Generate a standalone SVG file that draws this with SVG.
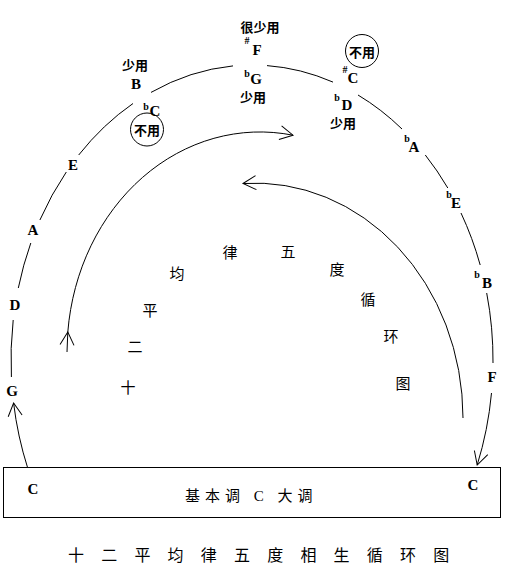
<svg xmlns="http://www.w3.org/2000/svg" width="510" height="576" viewBox="0 0 510 576">
<style>
.ln{fill:none;stroke:#000;stroke-width:1}
.n{font-family:"Liberation Serif","Noto Sans CJK SC",serif;font-size:15px;font-weight:bold;text-anchor:middle;fill:#000}
.acc{font-family:"Liberation Serif",serif;font-size:10px;font-weight:bold;text-anchor:middle;fill:#000}
.u{font-family:"Noto Sans CJK SC",sans-serif;font-size:13px;font-weight:bold;text-anchor:middle;fill:#000}
.z{font-family:"Noto Sans CJK SC",sans-serif;font-size:15px;font-weight:normal;text-anchor:middle;fill:#000}
.box{font-family:"Liberation Serif","Noto Sans CJK SC",serif;font-size:15px;fill:#000}
</style>
<defs>
<marker id="ah" markerUnits="userSpaceOnUse" markerWidth="20" markerHeight="20" refX="0" refY="0" viewBox="-15 -10 20 20" orient="auto">
<path d="M-13,-7 L0,0 L-13,7" fill="none" stroke="#000" stroke-width="1"/>
</marker>
</defs>
<rect width="510" height="576" fill="#fff"/>
<g id="connectors">
<path class="ln" d="M27.7,468 A241,295 0 0 1 13.6,403" marker-end="url(#ah)"/>
<path class="ln" d="M11.4,377 A241,295 0 0 1 13.2,320"/>
<path class="ln" d="M18.3,288 A241,295 0 0 1 30.8,243"/>
<path class="ln" d="M39.9,220 A241,295 0 0 1 66.3,172"/>
<path class="ln" d="M78.7,155 A241,295 0 0 1 133,103.5"/>
<path class="ln" d="M151,92.4 A241,295 0 0 1 233,65.9"/>
<path class="ln" d="M267,65.6 A241,295 0 0 1 333,82.1"/>
<path class="ln" d="M358,95 A241,295 0 0 1 402,129"/>
<path class="ln" d="M425.3,155 A241,295 0 0 1 447.8,188"/>
<path class="ln" d="M461,213 A241,295 0 0 1 480.2,265"/>
<path class="ln" d="M486.7,293 A241,295 0 0 1 493,363"/>
<path class="ln" d="M491.5,393 A241,295 0 0 1 477.2,465" marker-end="url(#ah)"/>
<path class="ln" d="M67,352 L67.8,332 A193,220 0 0 1 293,135.2" marker-mid="url(#ah)" marker-end="url(#ah)"/>
<path class="ln" d="M463,418 A208,235 0 0 0 243,183.5" marker-end="url(#ah)"/>
</g>
<g id="base">
<rect x="3.5" y="467.5" width="497" height="50" fill="none" stroke="#000" stroke-width="1"/>
<text class="n" x="33" y="494">C</text>
<text class="n" x="473" y="490">C</text>
<text class="box" x="185" y="501" letter-spacing="5">基本调 C 大调</text>
</g>
<g id="note-G"><text class="n" x="12" y="396">G</text></g>
<g id="note-D"><text class="n" x="15" y="310">D</text></g>
<g id="note-A"><text class="n" x="33" y="235">A</text></g>
<g id="note-E"><text class="n" x="73" y="170">E</text></g>
<g id="note-B"><text class="u" x="135" y="70">少用</text><text class="n" x="136" y="89">B</text></g>
<g id="note-Cb"><text class="acc" x="146" y="110">b</text><text class="n" x="155" y="116">C</text><circle cx="147" cy="129.5" r="16.5" fill="none" stroke="#000" stroke-width="1"/><text class="u" x="147" y="135" font-size="14px">不用</text></g>
<g id="note-Fs"><text class="u" x="260" y="32">很少用</text><text class="acc" x="247" y="44">#</text><text class="n" x="257" y="55">F</text></g>
<g id="note-Gb"><text class="acc" x="247" y="77">b</text><text class="n" x="256" y="84">G</text><text class="u" x="253" y="102">少用</text></g>
<g id="note-Cs"><circle cx="362" cy="51" r="16.5" fill="none" stroke="#000" stroke-width="1"/><text class="u" x="362" y="57" font-size="14px">不用</text><text class="acc" x="345" y="73">#</text><text class="n" x="353" y="83">C</text></g>
<g id="note-Db"><text class="acc" x="337" y="101">b</text><text class="n" x="347" y="110">D</text><text class="u" x="343" y="128">少用</text></g>
<g id="note-Ab"><text class="acc" x="407" y="142">b</text><text class="n" x="414" y="152">A</text></g>
<g id="note-Eb"><text class="acc" x="449" y="198">b</text><text class="n" x="456" y="208">E</text></g>
<g id="note-Bb"><text class="acc" x="477" y="278">b</text><text class="n" x="487" y="288">B</text></g>
<g id="note-F"><text class="n" x="492" y="382">F</text></g>
<g id="inner-title">
<text class="z" x="128" y="393">十</text>
<text class="z" x="135" y="352">二</text>
<text class="z" x="150" y="316">平</text>
<text class="z" x="177" y="279">均</text>
<text class="z" x="230" y="258">律</text>
<text class="z" x="288" y="257">五</text>
<text class="z" x="337" y="275">度</text>
<text class="z" x="368" y="305">循</text>
<text class="z" x="391" y="342">环</text>
<text class="z" x="403" y="389">图</text>
</g>
<g id="title">
<text x="68" y="561" font-family="Noto Sans CJK SC,sans-serif" font-size="16" font-weight="normal" letter-spacing="17.2">十二平均律五度相生循环图</text>
</g>
</svg>
